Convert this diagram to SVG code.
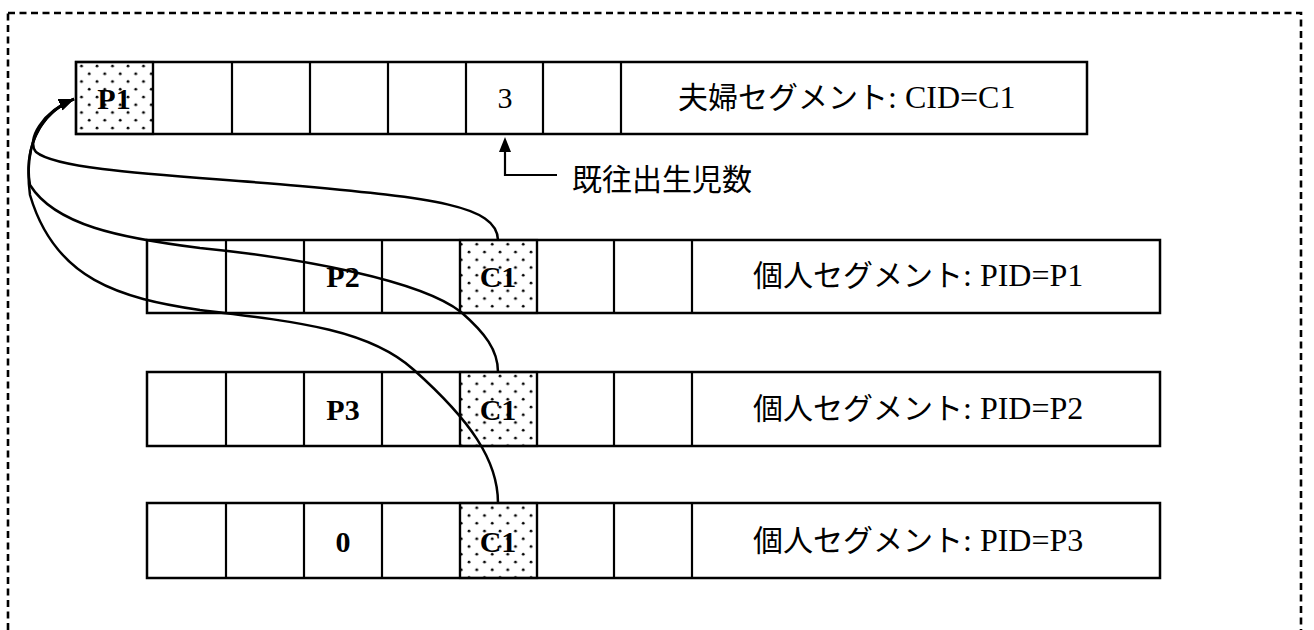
<svg xmlns="http://www.w3.org/2000/svg" width="1314" height="630" viewBox="0 0 1314 630">
<defs>
<pattern id="dots" width="15.5" height="15.5" patternUnits="userSpaceOnUse">
<circle cx="4" cy="4" r="1.4" fill="#000"/>
<circle cx="11.75" cy="11.75" r="1.4" fill="#000"/>
</pattern>
<marker id="arr" markerUnits="userSpaceOnUse" markerWidth="18" markerHeight="14" refX="15" refY="6" orient="auto" viewBox="0 0 18 12">
<path d="M0,0 L15,6 L0,12 Z" fill="#000"/>
</marker>
<style>
.box{fill:#fff;stroke:#000;stroke-width:2.5}
.ln{stroke:#000;stroke-width:2.2}
.dot{fill:url(#dots);stroke:#000;stroke-width:2.2}
.bl{font-family:"Liberation Serif","Times New Roman",serif;font-weight:bold;font-size:30px;text-anchor:middle}
.rg{font-family:"Liberation Serif","Times New Roman",serif;font-size:30px;text-anchor:middle}
.jp{font-family:"Noto Sans CJK JP","Noto Sans",sans-serif;font-size:30px}
.lat{font-family:"Liberation Serif","Times New Roman",serif;font-size:32px}
.cv{fill:none;stroke:#000;stroke-width:2.5}
</style>
</defs>
<rect width="1314" height="630" fill="#fff"/>
<rect x="8" y="13" width="1293" height="660" fill="none" stroke="#000" stroke-width="2.6" stroke-dasharray="7,4.5"/>

<g id="couple">
<rect class="box" x="76" y="62" width="1011" height="72"/>
<rect class="dot" x="76" y="62" width="77" height="72"/>
<path class="ln" d="M153,62V134M232,62V134M310,62V134M388,62V134M466,62V134M543,62V134M621,62V134"/>
<text class="bl" x="114" y="109">P1</text>
<text class="rg" x="505" y="108">3</text>
<text x="678" y="108"><tspan class="jp">夫婦セグメント</tspan><tspan class="lat">: CID=C1</tspan></text>
</g>

<g id="p1">
<rect class="box" x="147" y="240" width="1013" height="73"/>
<rect class="dot" x="460" y="240" width="77" height="73"/>
<path class="ln" d="M226,240V313M304,240V313M382,240V313M460,240V313M537,240V313M614,240V313M692,240V313"/>
<text class="bl" x="343" y="287">P2</text>
<text class="bl" x="498" y="287">C1</text>
<text x="753" y="286"><tspan class="jp">個人セグメント</tspan><tspan class="lat">: PID=P1</tspan></text>
</g>

<g id="p2">
<rect class="box" x="147" y="372" width="1013" height="74"/>
<rect class="dot" x="460" y="372" width="77" height="74"/>
<path class="ln" d="M226,372V446M304,372V446M382,372V446M460,372V446M537,372V446M614,372V446M692,372V446"/>
<text class="bl" x="343" y="420">P3</text>
<text class="bl" x="498" y="420">C1</text>
<text x="753" y="419"><tspan class="jp">個人セグメント</tspan><tspan class="lat">: PID=P2</tspan></text>
</g>

<g id="p3">
<rect class="box" x="147" y="503" width="1013" height="75"/>
<rect class="dot" x="460" y="503" width="77" height="75"/>
<path class="ln" d="M226,503V578M304,503V578M382,503V578M460,503V578M537,503V578M614,503V578M692,503V578"/>
<text class="bl" x="343" y="552">0</text>
<text class="bl" x="498" y="552">C1</text>
<text x="753" y="551"><tspan class="jp">個人セグメント</tspan><tspan class="lat">: PID=P3</tspan></text>
</g>

<g id="label-births">
<text class="jp" x="572" y="190">既往出生児数</text>
</g>

<g id="connectors">
<path class="ln" fill="none" d="M557,175H505V148"/>
<polygon points="505,137 499,152 511,152" fill="#000"/>
<path class="cv" marker-end="url(#arr)" d="M498,240 C497,205 430,198 300,186 C190,176 60,172 36,152 C26,140 42,112 74,99"/>
<path class="cv" marker-end="url(#arr)" d="M498,372 C498,350 485,333 461,312 C420,280 300,258 200,248 C120,238 55,225 30,185 C24,150 38,114 74,99"/>
<path class="cv" marker-end="url(#arr)" d="M498,503 C498,460 470,420 414,370 C370,330 300,322 200,310 C120,298 55,280 30,195 C24,150 36,115 74,99"/>
</g>
</svg>
